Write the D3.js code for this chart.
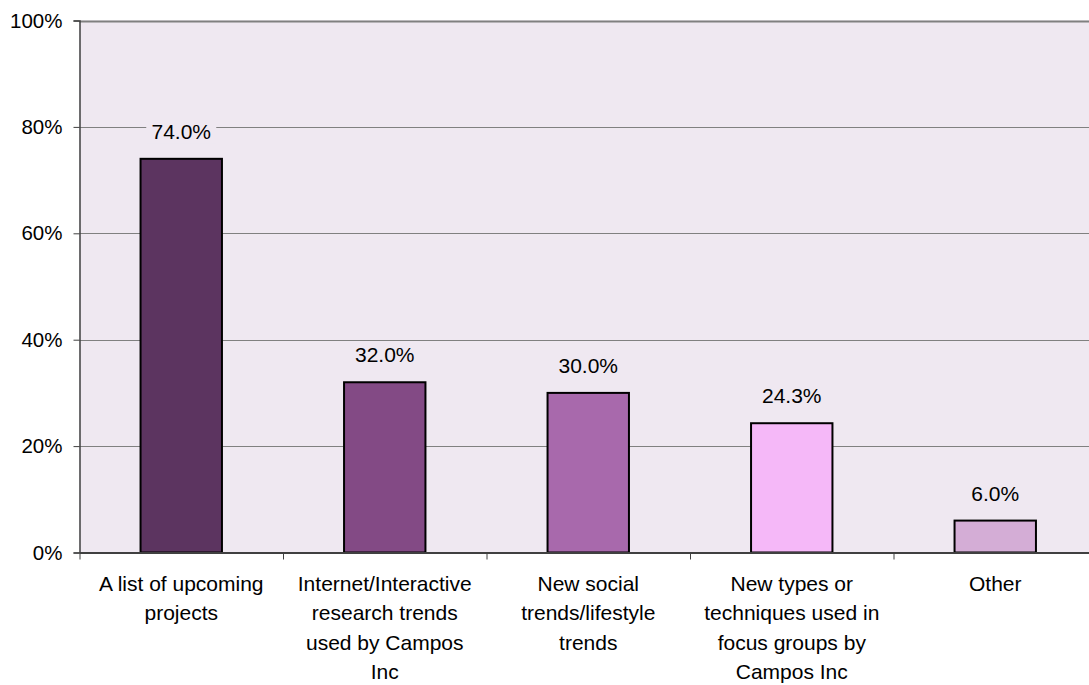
<!DOCTYPE html>
<html><head><meta charset="utf-8">
<script src="https://cdn.jsdelivr.net/npm/d3@7"></script>
<style>html,body{margin:0;padding:0;background:#fff;}svg{display:block;}</style>
</head><body>
<svg id="chart" width="1089" height="685"></svg>
<script>
const categories = [
  ["A list of upcoming", "projects"],
  ["Internet/Interactive", "research trends", "used by Campos", "Inc"],
  ["New social", "trends/lifestyle", "trends"],
  ["New types or", "techniques used in", "focus groups by", "Campos Inc"],
  ["Other"]
];
const values = [74.0, 32.0, 30.0, 24.3, 6.0];
const barColors = ["#5C3460", "#834A85", "#A869AC", "#F5B8F8", "#D4ADD6"];
const yTicks = [0, 20, 40, 60, 80, 100];

const svg = d3.select("#chart");
const pL = 79.5, pR = 1097, pT = 20.5, pB = 552.5;
const font = "'Liberation Sans', Arial, sans-serif";

const x = d3.scaleBand().domain(d3.range(categories.length)).range([pL, pR]).padding(0);
const y = d3.scaleLinear().domain([0, 100]).range([pB, pT]);
const barW = x.bandwidth() * 0.4;

svg.append("rect").attr("x", pL).attr("y", pT).attr("width", pR - pL).attr("height", pB - pT)
  .attr("fill", "#EFE8F1");

// gridlines
svg.append("g").selectAll("line").data(yTicks.filter(d => d > 0)).join("line")
  .attr("x1", pL).attr("x2", pR)
  .attr("y1", d => Math.round(y(d)) + 0.5).attr("y2", d => Math.round(y(d)) + 0.5)
  .attr("stroke", "#808080").attr("stroke-width", d => d === 100 ? 2 : 1);

// bars
svg.append("g").selectAll("rect").data(values).join("rect")
  .attr("x", (d, i) => x(i) + x.bandwidth() / 2 - barW / 2)
  .attr("y", d => y(d))
  .attr("width", barW)
  .attr("height", d => y(0) - y(d))
  .attr("fill", (d, i) => barColors[i])
  .attr("stroke", "#000").attr("stroke-width", 2);

// data labels with background
const lab = svg.append("g").selectAll("g").data(values).join("g")
  .attr("transform", (d, i) => `translate(${x(i) + x.bandwidth() / 2},${y(d) - 20})`);
lab.append("rect").attr("x", -35).attr("y", -18).attr("width", 70).attr("height", 23).attr("fill", "#EFE8F1");
lab.append("text").attr("text-anchor", "middle").attr("font-family", font).attr("font-size", 21)
  .attr("fill", "#000").text(d => d.toFixed(1) + "%");

// y axis
const yAxis = d3.axisLeft(y).tickValues(yTicks).tickFormat(d => d + "%").tickSize(6).tickPadding(11);
const gy = svg.append("g").attr("transform", `translate(${pL},0)`).call(yAxis);
gy.select(".domain").attr("stroke", "#404040").attr("stroke-width", 1.5);
gy.selectAll(".tick line").attr("stroke", "#404040");
gy.selectAll(".tick text").attr("font-family", font).attr("font-size", 20.5).attr("fill", "#000");

// x axis
const bx = d3.scaleLinear().domain([0, categories.length]).range([pL, pR]);
const xAxis = d3.axisBottom(bx).tickValues(d3.range(categories.length + 1)).tickFormat("").tickSize(7).tickSizeOuter(0);
const gx = svg.append("g").attr("transform", `translate(0,${pB})`).call(xAxis);
gx.select(".domain").attr("stroke", "#404040").attr("stroke-width", 2);
gx.selectAll(".tick line").attr("stroke", "#404040");

// category labels
const cl = svg.append("g").selectAll("text").data(categories).join("text")
  .attr("text-anchor", "middle").attr("font-family", font).attr("font-size", 21).attr("fill", "#000")
  .attr("transform", (d, i) => `translate(${x(i) + x.bandwidth() / 2},591)`);
cl.selectAll("tspan").data(d => d).join("tspan")
  .attr("x", 0).attr("dy", (d, j) => j === 0 ? 0 : 29.3).text(d => d);
</script>
</body></html>
